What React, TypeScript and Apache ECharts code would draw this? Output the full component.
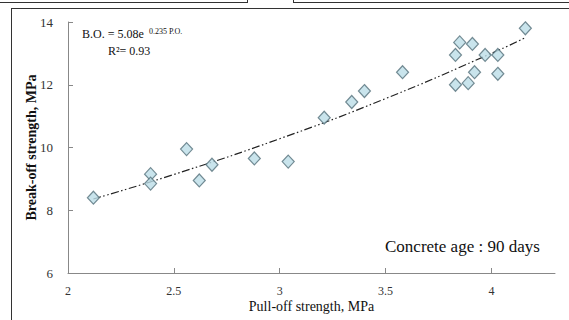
import React, { useEffect, useRef } from "react";
import * as echarts from "echarts";

const pullOff = [2.12, 2.39, 2.39, 2.56, 2.62, 2.68, 2.88, 3.04, 3.21, 3.34, 3.4, 3.58, 3.83, 3.83, 3.85, 3.89, 3.91, 3.92, 3.97, 4.03, 4.03, 4.16];
const breakOff = [8.4, 9.15, 8.85, 9.95, 8.95, 9.45, 9.65, 9.55, 10.95, 11.45, 11.8, 12.4, 12.0, 12.95, 13.35, 12.05, 13.3, 12.4, 12.95, 12.95, 12.35, 13.8];
const trendX = [2.12, 2.5, 3.0, 3.5, 4.0, 4.16];
const trendY = [8.36, 9.14, 10.28, 11.56, 13.0, 13.5];
const xTicks = [2, 2.5, 3, 3.5, 4];

const FONT = "Liberation Serif";

export default function App() {
  const ref = useRef<HTMLDivElement>(null);
  useEffect(() => {
    if (!ref.current) return;
    const chart = echarts.init(ref.current, undefined, { renderer: "svg" });
    chart.setOption({
      animation: false,
      backgroundColor: "#ffffff",
      textStyle: { fontFamily: FONT },
      grid: { left: 68, right: 14, top: 22, bottom: 47 },
      xAxis: {
        type: "value",
        min: 2,
        max: 4.3,
        interval: 0.5,
        name: "Pull-off strength, MPa",
        nameLocation: "middle",
        nameGap: 26,
        nameMoveOverlap: false,
        nameTextStyle: { fontFamily: FONT, fontSize: 14, color: "#111" },
        axisLine: { show: true, onZero: false, lineStyle: { color: "#888", width: 1 } },
        axisTick: { show: true, inside: true, length: 5, customValues: xTicks, lineStyle: { color: "#888" } },
        axisLabel: { customValues: xTicks, margin: 12, fontFamily: FONT, fontSize: 12, color: "#333" },
        splitLine: { show: false },
      },
      yAxis: {
        type: "value",
        min: 6,
        max: 14,
        interval: 2,
        name: "Break-off strength, MPa",
        nameLocation: "middle",
        nameGap: 30,
        nameMoveOverlap: false,
        nameTextStyle: { fontFamily: FONT, fontSize: 14, fontWeight: "bold", color: "#111" },
        axisLine: { show: true, lineStyle: { color: "#888", width: 1 } },
        axisTick: { show: true, inside: true, length: 5, lineStyle: { color: "#888" } },
        axisLabel: { margin: 15, fontFamily: FONT, fontSize: 13, color: "#333" },
        splitLine: { show: false },
      },
      series: [
        {
          type: "line",
          data: trendX.map((x, i) => [x, trendY[i]]),
          smooth: true,
          showSymbol: false,
          symbol: "none",
          lineStyle: { color: "#222", width: 1.2, type: [8, 2.5, 1.5, 2.5, 1.5, 2.5] },
          silent: true,
          z: 1,
        },
        {
          type: "scatter",
          data: pullOff.map((x, i) => [x, breakOff[i]]),
          symbol: "diamond",
          symbolSize: [12, 13],
          itemStyle: { color: "#bcdde7", borderColor: "#55707a", borderWidth: 1.2 },
          z: 3,
        },
      ],
      graphic: [
        { type: "line", shape: { x1: 0, y1: 2.5, x2: 247, y2: 2.5 }, style: { stroke: "#333", lineWidth: 1 } },
        { type: "line", shape: { x1: 247.5, y1: 0, x2: 247.5, y2: 3 }, style: { stroke: "#333", lineWidth: 1 } },
        { type: "line", shape: { x1: 293, y1: 2.5, x2: 569, y2: 2.5 }, style: { stroke: "#333", lineWidth: 1 } },
        { type: "line", shape: { x1: 293.5, y1: 0, x2: 293.5, y2: 3 }, style: { stroke: "#333", lineWidth: 1 } },
        { type: "line", shape: { x1: 11, y1: 8.5, x2: 569, y2: 8.5 }, style: { stroke: "#333", lineWidth: 1 } },
        { type: "line", shape: { x1: 11.5, y1: 8, x2: 11.5, y2: 320 }, style: { stroke: "#333", lineWidth: 1 } },
        {
          type: "text",
          x: 82,
          y: 34,
          style: { text: "B.O. = 5.08e", font: "12px 'Liberation Serif'", fill: "#111", verticalAlign: "middle" },
        },
        {
          type: "text",
          x: 149,
          y: 31,
          style: { text: "0.235 P.O.", font: "8px 'Liberation Serif'", fill: "#111", verticalAlign: "middle" },
        },
        {
          type: "text",
          x: 108,
          y: 51,
          style: { text: "R\u00b2= 0.93", font: "12px 'Liberation Serif'", fill: "#111", verticalAlign: "middle" },
        },
        {
          type: "text",
          x: 385,
          y: 246,
          style: { text: "Concrete age : 90 days", font: "17px 'Liberation Serif'", fill: "#111", verticalAlign: "middle" },
        },
      ],
    });
    return () => chart.dispose();
  }, []);
  return (
    <div
      ref={ref}
      style={{ position: "fixed", left: 0, top: 0, width: 569, height: 320, background: "#fff" }}
    />
  );
}
